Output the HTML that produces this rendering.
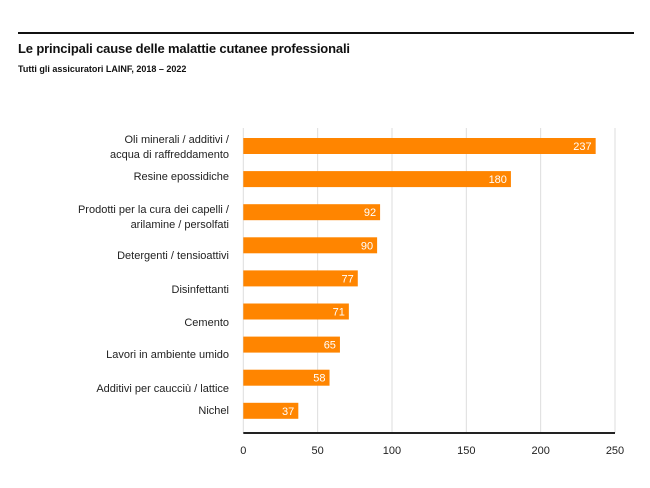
<!DOCTYPE html>
<html><head><meta charset="utf-8"><style>
body{margin:0;width:650px;height:488px;background:#fff;font-family:"Liberation Sans",sans-serif;position:relative;overflow:hidden}
.t{position:absolute;color:#111}
.lab{position:absolute;right:421px;font-size:11px;color:#222;white-space:nowrap;text-align:right;line-height:15px}
</style></head><body>
<div style="position:absolute;left:18px;top:32px;width:616px;height:2px;background:#111"></div>
<div class="t" style="left:18px;top:41px;font-size:13px;font-weight:bold;letter-spacing:-0.15px">Le principali cause delle malattie cutanee professionali</div>
<div class="t" style="left:18px;top:64px;font-size:9px;font-weight:bold">Tutti gli assicuratori LAINF, 2018 – 2022</div>
<div class="lab" style="top:133px">Oli minerali / additivi /<br>acqua di raffreddamento</div>
<div class="lab" style="top:170px">Resine epossidiche</div>
<div class="lab" style="top:203px">Prodotti per la cura dei capelli /<br>arilamine / persolfati</div>
<div class="lab" style="top:249px">Detergenti / tensioattivi</div>
<div class="lab" style="top:283px">Disinfettanti</div>
<div class="lab" style="top:316px">Cemento</div>
<div class="lab" style="top:348px">Lavori in ambiente umido</div>
<div class="lab" style="top:382px">Additivi per caucciù / lattice</div>
<div class="lab" style="top:404px">Nichel</div>
<svg id="c" width="650" height="488" style="position:absolute;left:0;top:0"></svg>
<script>
const categories=["Oli minerali","Resine epossidiche","Prodotti capelli","Detergenti","Disinfettanti","Cemento","Lavori umido","Additivi caucciù","Nichel"];
const values=[237,180,92,90,77,71,65,58,37];
const ticks=[0,50,100,150,200,250];
const ns="http://www.w3.org/2000/svg",svg=document.getElementById('c');
const x0=243.3,x1=615,y0=138,step=33.1,bh=16,axisY=433;
const xs=v=>x0+(v/250)*(x1-x0);
function el(t,a){const e=document.createElementNS(ns,t);for(const k in a)e.setAttribute(k,a[k]);svg.appendChild(e);return e;}
ticks.forEach(t=>{
 const g=el('line',{x1:xs(t),x2:xs(t),y1:128,y2:axisY,stroke:'#ddd','stroke-width':1});
 
 
 const tx=el('text',{x:xs(t),y:454,'text-anchor':'middle','font-size':11,fill:'#222','font-family':'Liberation Sans'});
 tx.textContent=t;
 
 
});
values.forEach((v,i)=>{
 const y=y0+i*step;
 const r=el('rect',{x:x0,y:y,width:xs(v)-x0,height:bh,fill:'#ff8500'});
 
 
 const tx=el('text',{x:xs(v)-4,y:y+12,'text-anchor':'end','font-size':11,fill:'#fff','font-family':'Liberation Sans'});
 tx.textContent=v;
 
 
});
const ax=el('line',{x1:x0,x2:x1,y1:axisY,y2:axisY,stroke:'#222','stroke-width':2});


</script>
</body></html>
